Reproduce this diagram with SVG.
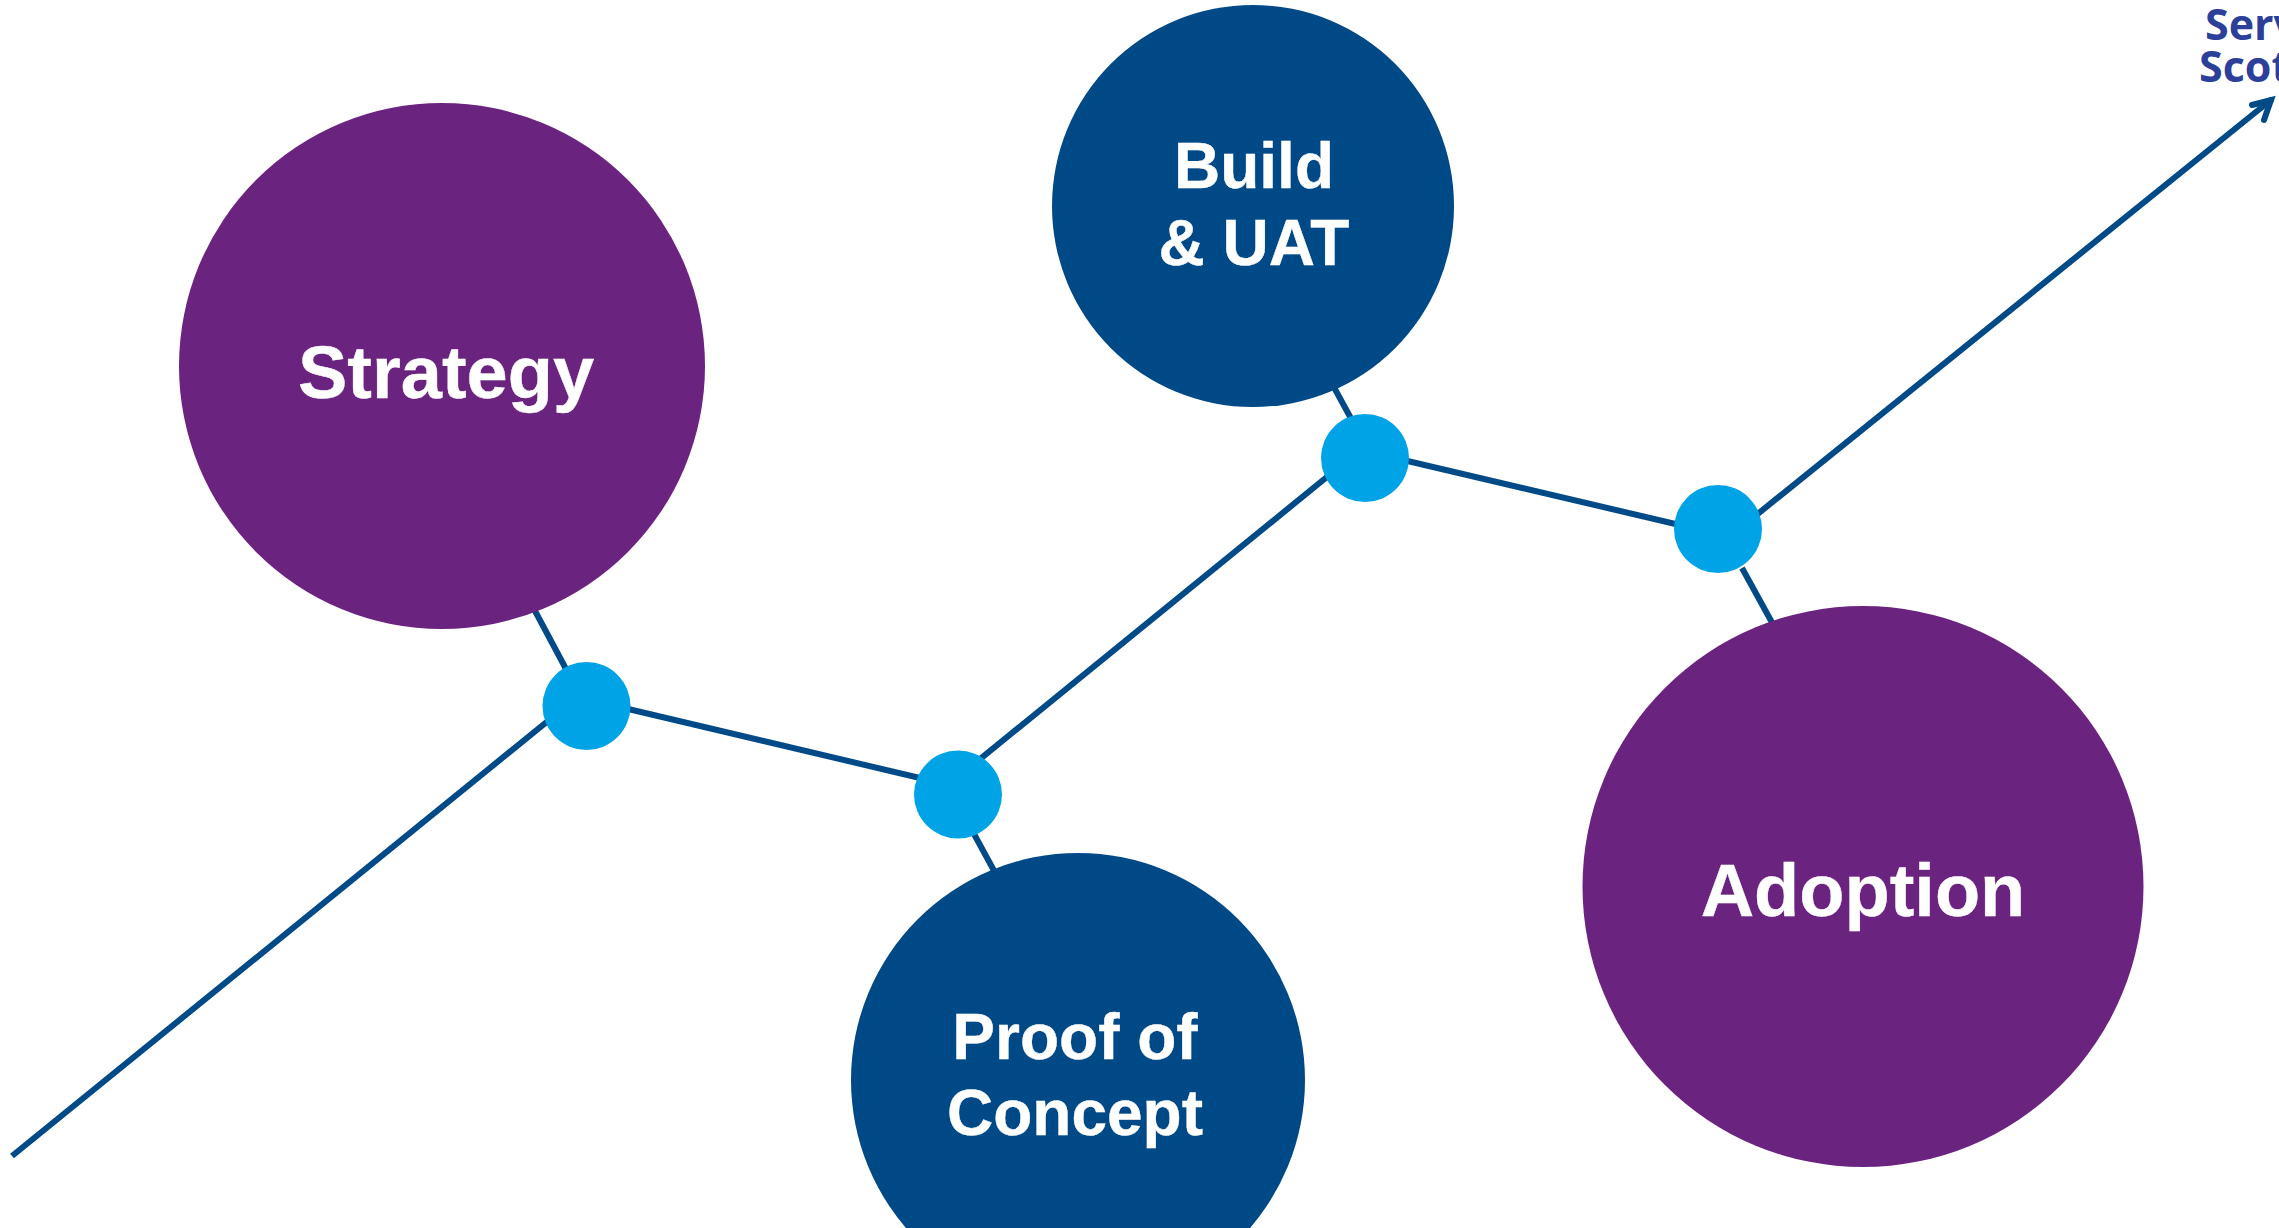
<svg xmlns="http://www.w3.org/2000/svg" width="2279" height="1228" viewBox="0 0 2279 1228">
<style>
.link{fill:none;stroke:#004a87;stroke-width:6}
.purple{fill:#6b2380}
.navy{fill:#004987}
.dot{fill:#00a3e6}
.lbl{font-family:"Liberation Sans",Arial,sans-serif;font-weight:700;fill:#fff;stroke:#fff;stroke-width:.4;text-anchor:middle}
.logo{font-family:"Open Sans",sans-serif;font-weight:700;font-size:43px;fill:#2c409a}
</style>
<rect width="2279" height="1228" fill="#fff"/>
<g id="connectors">
<path class="link" d="M12 1156L586 690"/>
<path class="link" d="M586 699L958 787"/>
<path class="link" d="M958 777L1365 446"/>
<path class="link" d="M1365 451L1718 534"/>
<path class="link" d="M1718 546L2272 99"/>
<path class="link" d="M2252 105L2271 100L2264 120" stroke-linecap="round"/>
<path class="link" d="M534 609L566 669"/>
<path class="link" d="M974 834L998 878"/>
<path class="link" d="M1330 380L1354 424"/>
<path class="link" d="M1742 568L1775 628"/>
</g>
<g id="node-strategy"><circle class="purple" cx="442" cy="366" r="263"/><text class="lbl" x="446" y="398" font-size="74">Strategy</text></g>
<g id="node-build"><circle class="navy" cx="1253" cy="206" r="201"/><text class="lbl" font-size="64"><tspan x="1254" y="188">Build</tspan><tspan x="1254" y="265">&amp; UAT</tspan></text></g>
<g id="node-proof"><circle class="navy" cx="1078" cy="1080" r="227"/><text class="lbl" font-size="64"><tspan x="1075" y="1059">Proof of</tspan><tspan x="1075" y="1135">Concept</tspan></text></g>
<g id="node-adoption"><circle class="purple" cx="1863" cy="886.500" r="280.500"/><text class="lbl" x="1863" y="915.500" font-size="74">Adoption</text></g>
<g id="dot-1"><circle class="dot" cx="586.500" cy="706" r="44"/></g>
<g id="dot-2"><circle class="dot" cx="958" cy="794.500" r="44"/></g>
<g id="dot-3"><circle class="dot" cx="1365" cy="458" r="44"/></g>
<g id="dot-4"><circle class="dot" cx="1718" cy="529" r="44"/></g>
<g id="logo"><text class="logo" x="2205" y="40">Serv</text><text class="logo" x="2199" y="82">Scot</text></g>
</svg>
